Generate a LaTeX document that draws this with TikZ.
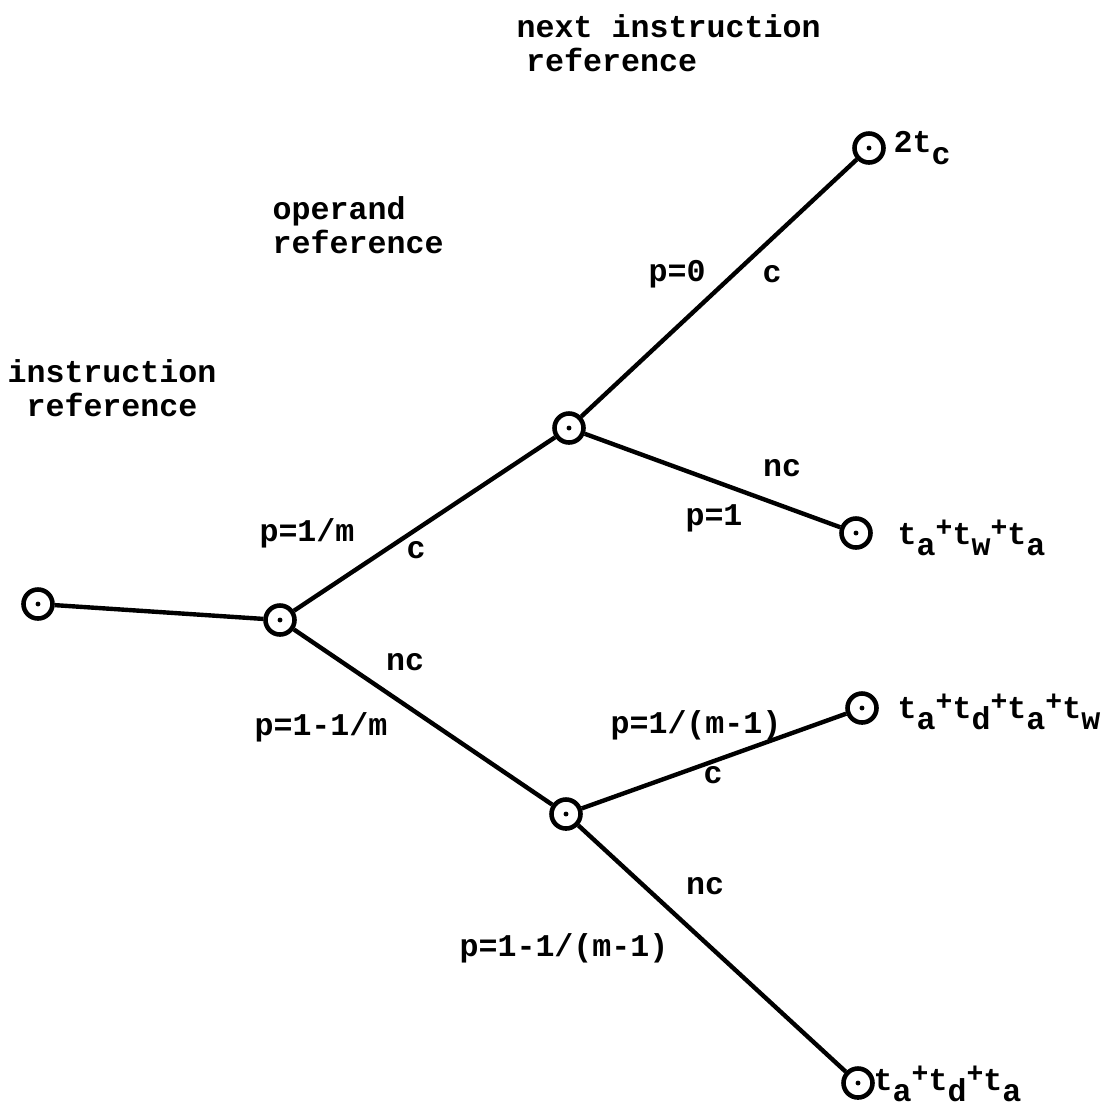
\documentclass[tikz,border=0pt]{standalone}
\usepackage{fontspec}
\newfontfamily\typew{Liberation Mono}
\usetikzlibrary{positioning}
\newcommand{\tsub}[1]{\raisebox{-0.7ex}{#1}}
\newcommand{\tplus}{\raisebox{0.45ex}{\footnotesize+}}

\begin{document}
\begin{tikzpicture}[
				x=0.01cm, y=-0.01cm,
				junc/.style={
					circle,
					draw,
					line width=1.3pt,
					minimum size=0.29cm,
					inner sep=0pt,
					path picture={\fill (path picture bounding box.center) circle (0.7pt);}
				},
				txt/.style={
					inner sep=0pt,
					font=\typew\bfseries\fontsize{9}{9.6}\selectfont
				},
				branch/.style={
					line width=1.25pt
				}
				]
				\useasboundingbox (0,0) rectangle (1109,1108);
				
				% Junctions of the tree
				\node[junc] (root) at (38,604) {};
				\node[junc] (first) at (280,620) {};
				\node[junc] (upper) at (569,428) {};
				\node[junc] (lower) at (566,814) {};
				
				% Leaves
				\node[junc] (leafa) at (869,148) {};
				\node[junc] (leafb) at (856,533) {};
				\node[junc] (leafc) at (862,708) {};
				\node[junc] (leafd) at (858,1083) {};
				
				% Branches
				\draw[branch] (root) -- (first);
				\draw[branch] (first) -- (upper);
				\draw[branch] (first) -- (lower);
				\draw[branch] (upper) -- (leafa);
				\draw[branch] (upper) -- (leafb);
				\draw[branch] (lower) -- (leafc);
				\draw[branch] (lower) -- (leafd);
				
				% Column headings
				\node[txt, align=center] (instr) at (112,388) {instruction\\reference};
				\node[txt, align=left, anchor=west] (operand) at (272,225) {operand\\reference};
				\node[txt, align=left, anchor=west] (nextinstr) at (516,43) {next instruction\\\hspace*{0.3em}reference};
				
				% Branch labels
				\node[txt] (pone) at (307,533) {p=1/m};
				\node[txt] (cone) at (416,550) {c};
				\node[txt] (ncone) at (405,662) {nc};
				\node[txt] (ptwo) at (321,727) {p=1-1/m};
				\node[txt] (pthree) at (677,274) {p=0};
				\node[txt] (ctwo) at (772,274) {c};
				\node[txt] (nctwo) at (782,468) {nc};
				\node[txt] (pfour) at (714,518) {p=1};
				\node[txt] (pfive) at (696,725) {p=1/(m-1)};
				\node[txt] (cthree) at (713,775) {c};
				\node[txt] (ncthree) at (705,886) {nc};
				\node[txt] (psix) at (564,948) {p=1-1/(m-1)};
				
				% Times at the leaves
				\node[txt, anchor=west] (timea) at (893,148) {2t\tsub{c}};
				\node[txt, anchor=west] (timeb) at (897,538) {t\tsub{a}\tplus t\tsub{w}\tplus t\tsub{a}};
				\node[txt, anchor=west] (timec) at (897,712) {t\tsub{a}\tplus t\tsub{d}\tplus t\tsub{a}\tplus t\tsub{w}};
				\node[txt, anchor=west] (timed) at (873,1084) {t\tsub{a}\tplus t\tsub{d}\tplus t\tsub{a}};
				
			\end{tikzpicture}
\end{document}
